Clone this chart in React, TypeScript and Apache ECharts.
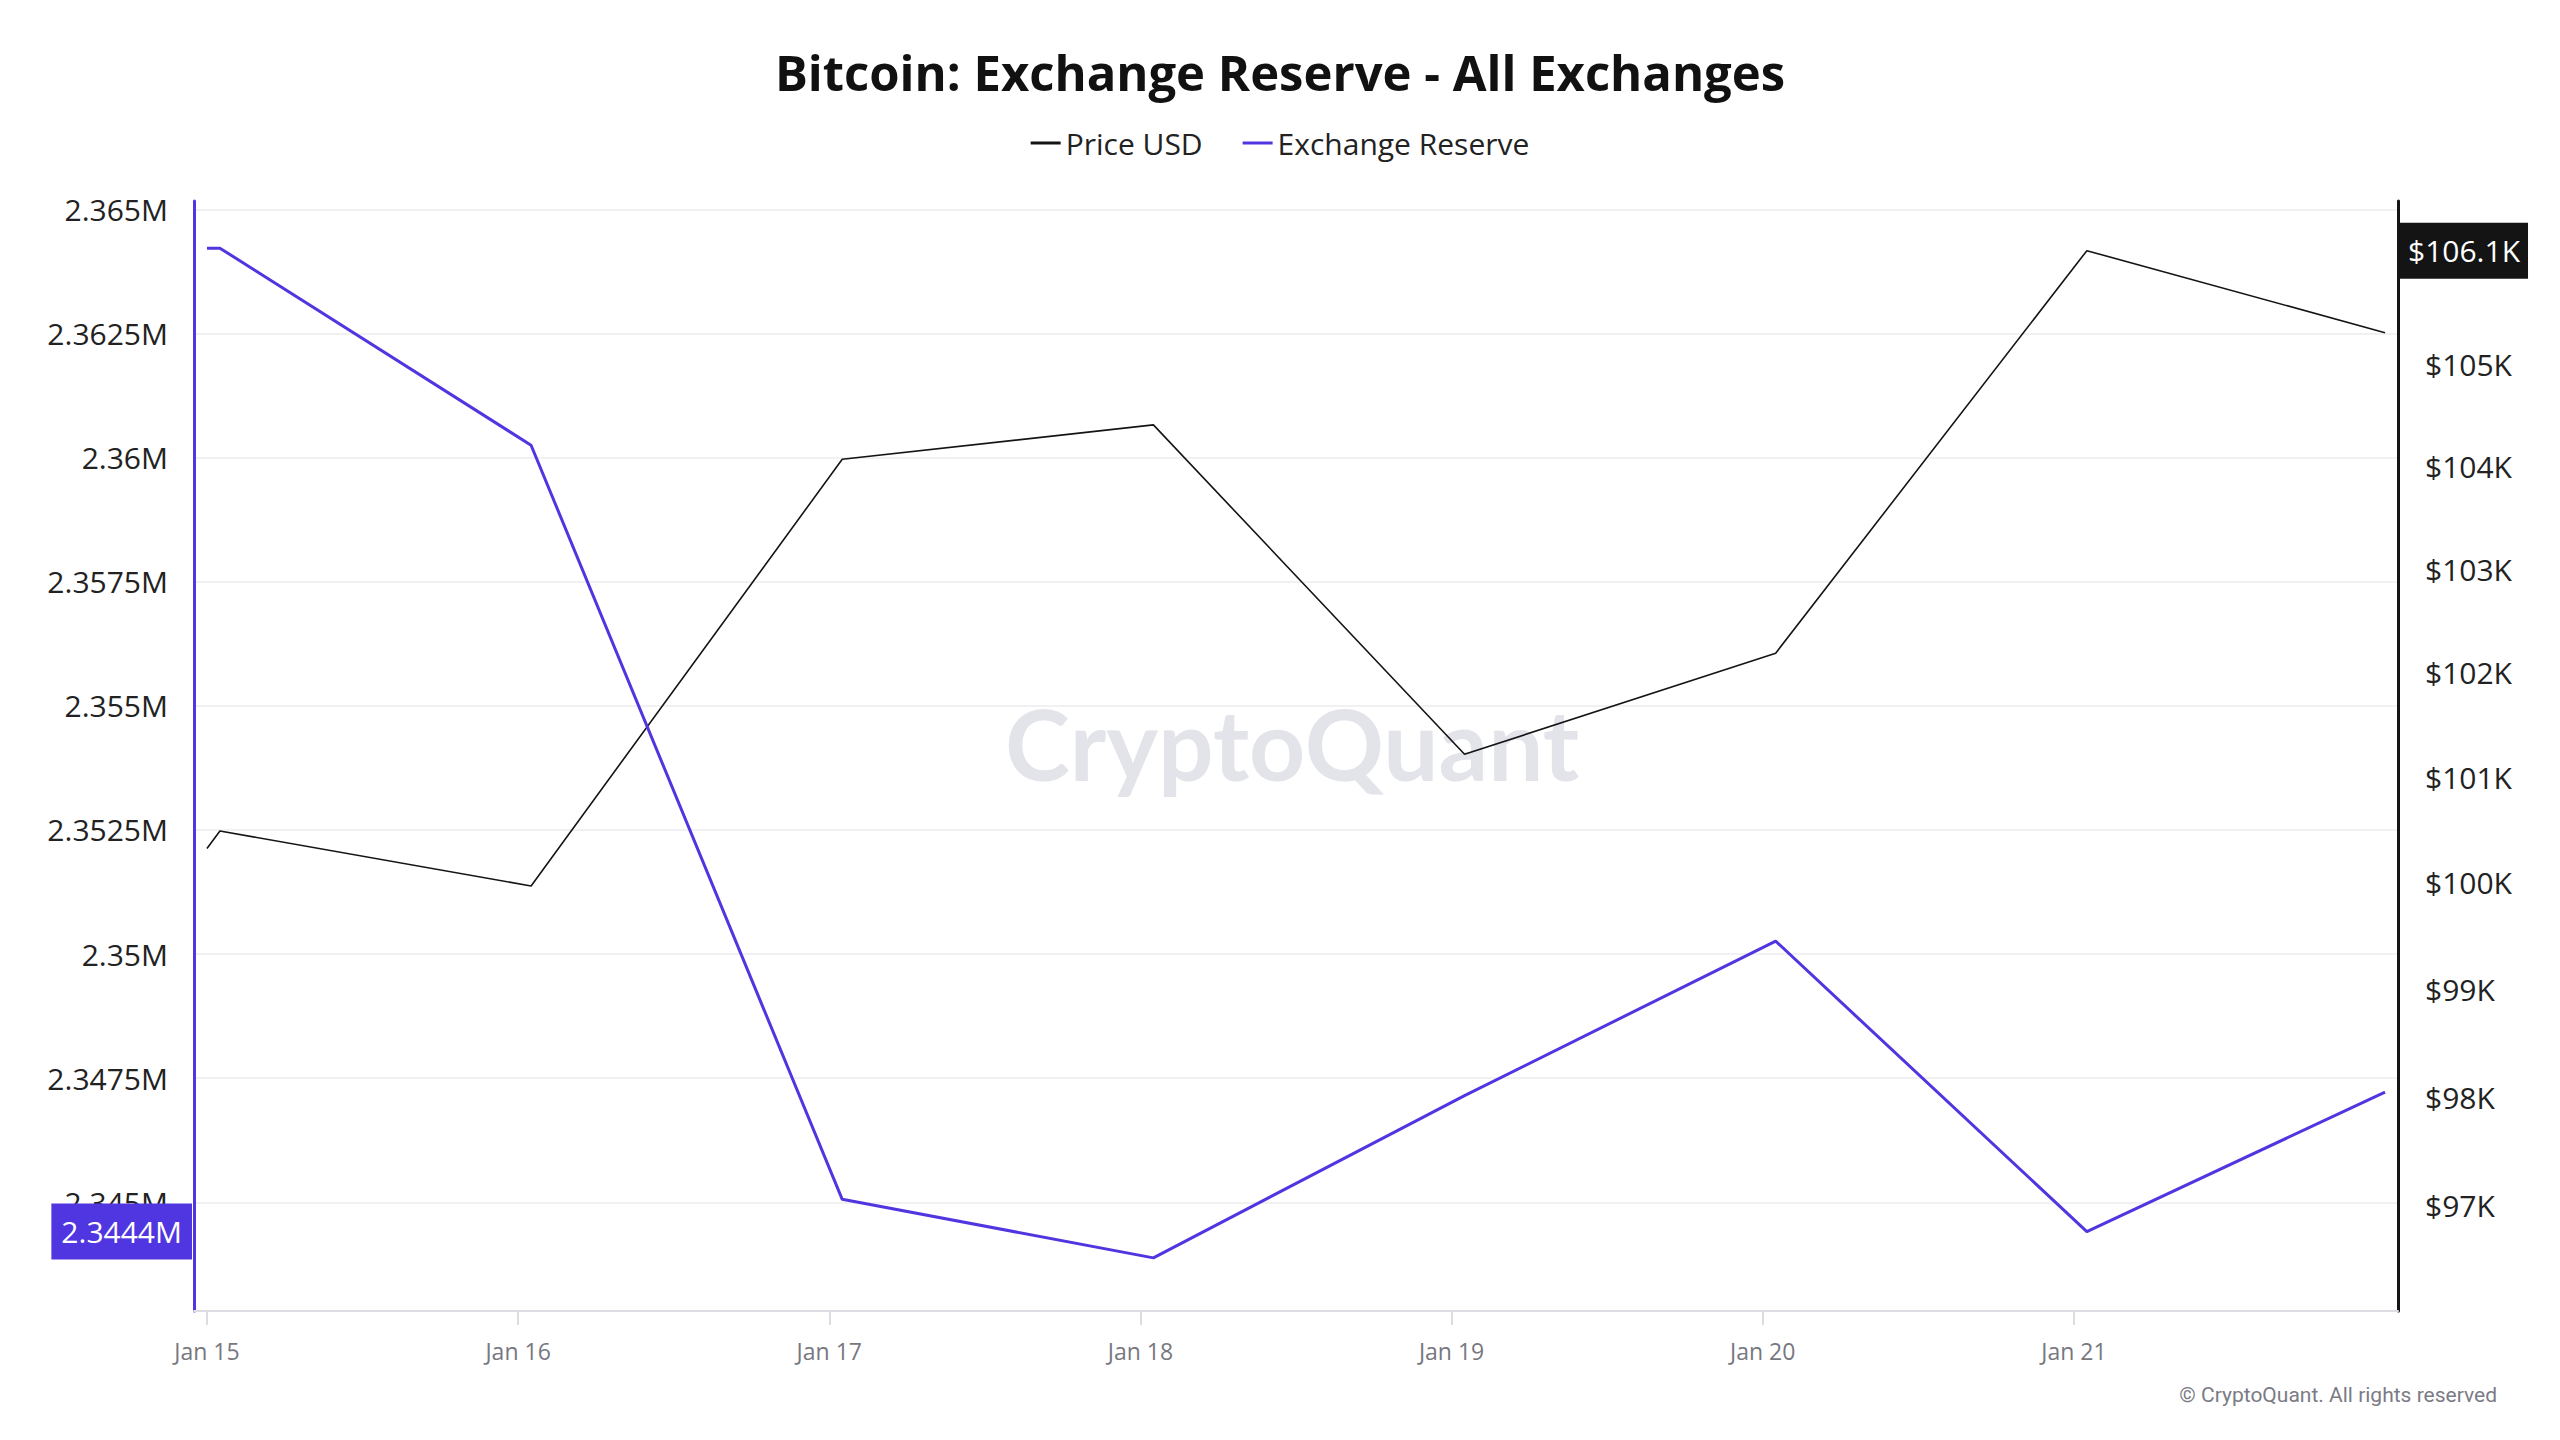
import React, { useEffect, useRef } from "react";
import * as echarts from "echarts";

// ---- data ----
const dates = [
  "2025-01-15T00:00:00Z",
  "2025-01-15T01:00:00Z",
  "2025-01-16T01:00:00Z",
  "2025-01-17T01:00:00Z",
  "2025-01-18T01:00:00Z",
  "2025-01-19T01:00:00Z",
  "2025-01-20T01:00:00Z",
  "2025-01-21T01:00:00Z",
  "2025-01-22T00:00:00Z",
];
const reserve = [2364220, 2364220, 2360250, 2345060, 2343880, 2347150, 2350260, 2344410, 2347220];
const price = [100323, 100489, 99970, 104071, 104409, 101218, 102187, 106137, 105320];

const xTickDates = [
  "2025-01-15T00:00:00Z",
  "2025-01-16T00:00:00Z",
  "2025-01-17T00:00:00Z",
  "2025-01-18T00:00:00Z",
  "2025-01-19T00:00:00Z",
  "2025-01-20T00:00:00Z",
  "2025-01-21T00:00:00Z",
];
const reserveTicks = [2345000, 2347500, 2350000, 2352500, 2355000, 2357500, 2360000, 2362500, 2365000];
const priceTicks = [97000, 98000, 99000, 100000, 101000, 102000, 103000, 104000, 105000];

const xMin = "2025-01-14T23:00:00Z";
const xMax = "2025-01-22T01:00:00Z";
const reserveMin = 2342810;
const reserveMax = 2365170;
const priceMin = 96045;
const priceMax = 106635;

const reserveMarker = 2344410;
const priceMarker = 106137;

const MONTHS = ["Jan", "Feb", "Mar", "Apr", "May", "Jun", "Jul", "Aug", "Sep", "Oct", "Nov", "Dec"];
const PURPLE = "#5036E0";
const DARK = "#141414";

const fmtReserve = (v: number) => `${+(v / 1e6).toFixed(4)}M`;
const fmtPrice = (v: number) => `$${+(v / 1000).toFixed(1)}K`;

export default function App() {
  const ref = useRef<HTMLDivElement>(null);

  useEffect(() => {
    if (!ref.current) return;
    const chart = echarts.init(ref.current, undefined, { renderer: "svg" });
    const ts = dates.map((d) => Date.parse(d));
    const xTicks = xTickDates.map((d) => Date.parse(d));

    chart.setOption({
      animation: false,
      backgroundColor: "#ffffff",
      title: {
        text: "Bitcoin: Exchange Reserve - All Exchanges",
        left: "center",
        top: 42,
        textStyle: {
          fontFamily: "Open Sans",
          fontWeight: 700,
          fontSize: 49,
          color: "#111111",
        },
      },
      legend: {
        top: 123,
        left: "center",
        itemGap: 40,
        itemWidth: 30,
        itemHeight: 3,
        textStyle: { fontFamily: "Open Sans", fontSize: 30, color: "#222222" },
        data: [
          { name: "Price USD", icon: "rect", itemStyle: { color: DARK } },
          { name: "Exchange Reserve", icon: "rect", itemStyle: { color: PURPLE } },
        ],
      },
      grid: { left: 194, right: 162, top: 201, bottom: 129, containLabel: false },
      xAxis: {
        type: "value",
        min: Date.parse(xMin),
        max: Date.parse(xMax),
        axisLine: { show: true, onZero: false, lineStyle: { color: "#dcdde3", width: 2 } },
        axisTick: {
          show: true,
          length: 14,
          lineStyle: { color: "#dcdde3", width: 2 },
          customValues: xTicks,
        },
        axisLabel: {
          customValues: xTicks,
          formatter: (v: number) => {
            const d = new Date(v);
            return `${MONTHS[d.getUTCMonth()]} ${d.getUTCDate()}`;
          },
          fontFamily: "Open Sans",
          fontSize: 23,
          color: "#77777f",
          margin: 28,
        },
        splitLine: { show: false },
      },
      yAxis: [
        {
          type: "value",
          position: "left",
          min: reserveMin,
          max: reserveMax,
          axisLine: { show: true, lineStyle: { color: PURPLE, width: 3 } },
          axisTick: { show: false, customValues: reserveTicks },
          axisLabel: {
            customValues: reserveTicks,
            formatter: (v: number) => fmtReserve(v),
            fontFamily: "Open Sans",
            fontSize: 30,
            color: "#222222",
            margin: 26,
          },
          splitLine: { show: true, lineStyle: { color: "#f1f1f3", width: 2 } },
        },
        {
          type: "log",
          position: "right",
          min: priceMin,
          max: priceMax,
          axisLine: { show: true, lineStyle: { color: DARK, width: 3 } },
          axisTick: { show: false, customValues: priceTicks },
          axisLabel: {
            customValues: priceTicks,
            formatter: (v: number) => fmtPrice(v),
            fontFamily: "Open Sans",
            fontSize: 30,
            color: "#222222",
            margin: 27,
          },
          splitLine: { show: false },
        },
      ],
      graphic: [
        {
          type: "text",
          left: 1295 - 290,
          top: 694,
          z: 0,
          silent: true,
          style: {
            text: "CryptoQuant",
            fill: "#e3e3ea",
            font: "bold 98px Lato",
          },
        },
        {
          type: "text",
          right: 63,
          top: 1384,
          silent: true,
          style: {
            text: "© CryptoQuant. All rights reserved",
            fill: "#7b7b85",
            font: "21px Roboto",
          },
        },
      ],
      series: [
        {
          name: "Price USD",
          type: "line",
          yAxisIndex: 1,
          data: ts.map((t, i) => [t, price[i]]),
          showSymbol: false,
          symbol: "none",
          lineStyle: { color: DARK, width: 1.6 },
          itemStyle: { color: DARK },
          z: 3,
          markLine: {
            silent: true,
            symbol: "none",
            animation: false,
            lineStyle: { color: "rgba(0,0,0,0)", width: 0 },
            data: [{ yAxis: priceMarker }],
            label: {
              show: true,
              position: "end",
              distance: 2,
              formatter: () => fmtPrice(priceMarker),
              backgroundColor: DARK,
              color: "#ffffff",
              fontFamily: "Open Sans",
              fontSize: 30,
              padding: [13, 8, 13, 8],
            },
          },
        },
        {
          name: "Exchange Reserve",
          type: "line",
          yAxisIndex: 0,
          data: ts.map((t, i) => [t, reserve[i]]),
          showSymbol: false,
          symbol: "none",
          lineStyle: { color: PURPLE, width: 3 },
          itemStyle: { color: PURPLE },
          z: 4,
          markLine: {
            silent: true,
            symbol: "none",
            animation: false,
            lineStyle: { color: "rgba(0,0,0,0)", width: 0 },
            data: [{ yAxis: reserveMarker }],
            label: {
              show: true,
              position: "start",
              distance: 2,
              formatter: () => fmtReserve(reserveMarker),
              backgroundColor: PURPLE,
              color: "#ffffff",
              fontFamily: "Open Sans",
              fontSize: 30,
              padding: [14, 10, 12, 10],
            },
          },
        },
      ],
    });

    return () => chart.dispose();
  }, []);

  return (
    <div
      ref={ref}
      style={{ position: "fixed", left: 0, top: 0, width: 2560, height: 1440, background: "#fff" }}
    />
  );
}
